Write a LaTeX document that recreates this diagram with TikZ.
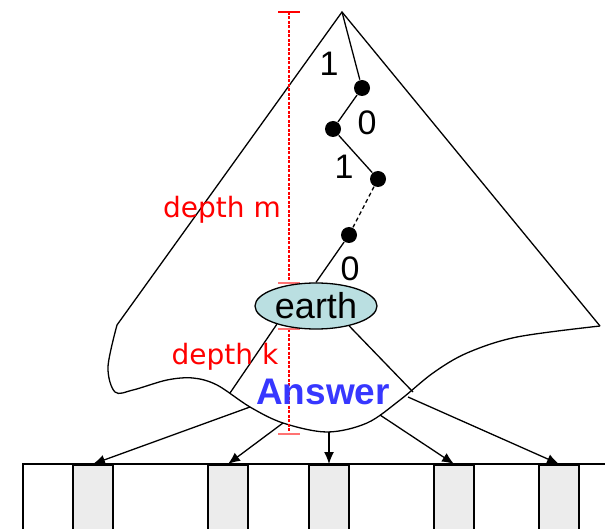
\documentclass[tikz,border=0pt]{standalone}
\usepackage{fontspec}
\setmainfont{Liberation Sans}
\newfontfamily\lblfont{DejaVu Sans}
\usetikzlibrary{arrows.meta,shapes.geometric}
\definecolor{ansblue}{RGB}{55,55,255}
\definecolor{earthfill}{RGB}{186,223,225}
\definecolor{slotgray}{RGB}{236,236,236}
\definecolor{rulered}{RGB}{255,0,0}
\begin{document}
\begin{tikzpicture}[x=1pt,y=-1pt,line width=1.3pt,
  dotnode/.style={circle,fill=black,inner sep=0pt,minimum size=16pt},
  digit/.style={font=\fontsize{34}{34}\selectfont},
  redlbl/.style={text=red,font=\lblfont\fontsize{28}{28}\selectfont},
  ruler/.style={draw=rulered,line width=1.1pt,dash pattern=on 3pt off 1.5pt},
  tickline/.style={draw=rulered,line width=1.2pt},
  softtick/.style={draw=rulered!55,line width=1.2pt},
  arr/.style={-{Latex[length=12pt,width=10pt]},line width=1.3pt},
  slot/.style={draw=black,line width=1.6pt,fill=slotgray,minimum width=40pt,minimum height=80pt,anchor=north,inner sep=0pt}]
\useasboundingbox (0,0) rectangle (605,529);
\clip (0,0) rectangle (605,529);

% outer cone
\coordinate (apex) at (342,12);
\coordinate (L) at (117,325);
\coordinate (R) at (600,326);
\draw (L) -- (apex) -- (R);
\draw plot[smooth,tension=0.55] coordinates {(117,325) (108,367) (115,392) (133,390) (167,380) (193,378) (217,385) (250,407) (283,423) (327,432) (367,423) (400,400) (433,373) (467,353) (517,337) (600,326)};

% ruler
\coordinate (rt) at (289,12);
\coordinate (rm) at (289,283);
\coordinate (rk1) at (289,329);
\coordinate (rk2) at (289,434);
\path[ruler] (rt) -- (rm);
\path[ruler] (rk1) -- (rk2);
\path[tickline] ([xshift=-11pt]rt) -- ([xshift=11pt]rt);
\path[softtick] ([xshift=-11pt]rm) -- ([xshift=11pt]rm);
\path[softtick] ([xshift=-11pt]rk1) -- ([xshift=11pt]rk1);
\path[softtick] ([xshift=-11pt]rk2) -- ([xshift=11pt]rk2);

% path dots
\node[dotnode] (d1) at (362,88) {};
\node[dotnode] (d2) at (333,129) {};
\node[dotnode] (d3) at (378,179) {};
\node[dotnode] (d4) at (349,235) {};
\node[ellipse,draw,fill=earthfill,line width=1.3pt,minimum width=122pt,minimum height=46pt,inner sep=0pt,font=\fontsize{36}{36}\selectfont] (earth) at (316,306) {earth};

\draw (apex) -- (d1) -- (d2) -- (d3);
\draw[dash pattern=on 4pt off 3pt] (d3) -- (d4);
\draw (d4) -- (earth.north);

\node[digit] (b1) at (329,64) {1};
\node[digit] (b2) at (367,123) {0};
\node[digit] (b3) at (344,167) {1};
\node[digit] (b4) at (350,269) {0};

% lines below earth
\coordinate (el) at (230,393);
\coordinate (er) at (413,392);
\draw (earth.205) -- (el);
\draw (earth.329) -- (er);

\node[redlbl] (dm) at (222,210) {depth m};
\node[redlbl] (dk) at (225,357) {depth k};
\node[text=ansblue,font=\bfseries\fontsize{37}{37}\selectfont] (ans) at (323,392) {Answer};

% storage
\draw (23,529) -- (23,464) -- (605,464);
\node[slot] (s1) at (93,464) {};
\node[slot] (s2) at (228,464) {};
\node[slot] (s3) at (329,464) {};
\node[slot] (s4) at (454,464) {};
\node[slot] (s5) at (559,464) {};

\coordinate (a1) at (250,407);
\coordinate (a2) at (283,423);
\coordinate (a3) at (329,432);
\coordinate (a4) at (380,415);
\coordinate (a5) at (408,397);
\draw[arr] (a1) -- (s1.north);
\draw[arr] (a2) -- (s2.north);
\draw[arr] (a3) -- (s3.north);
\draw[arr] (a4) -- (s4.north);
\draw[arr] (a5) -- (s5.north);
\end{tikzpicture}
\end{document}
